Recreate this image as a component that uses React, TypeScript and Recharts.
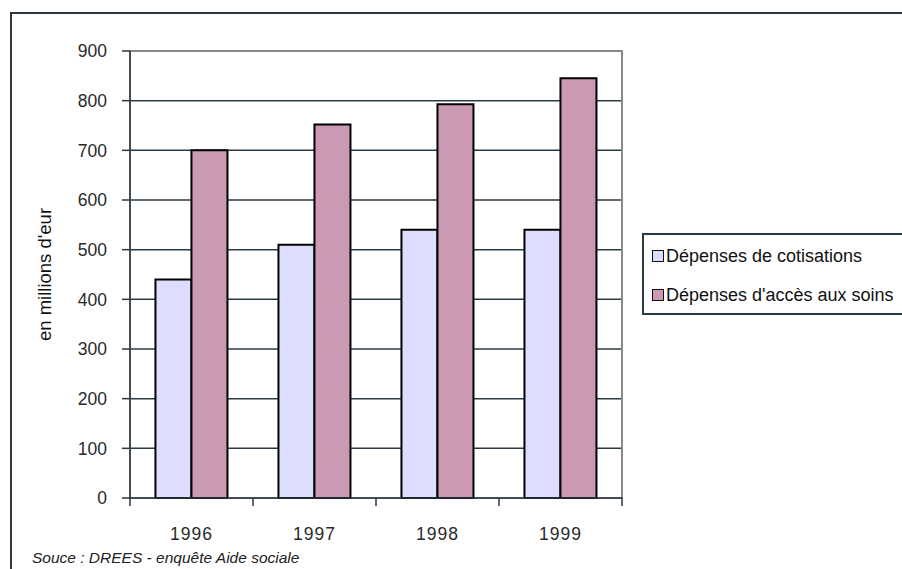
import { BarChart, Bar, XAxis, YAxis, CartesianGrid, ReferenceArea } from 'recharts';

const years = ['1996', '1997', '1998', '1999'];
const cotisations = [440, 510, 540, 540];
const soins = [700, 752, 793, 845];
const yTicks = [0, 100, 200, 300, 400, 500, 600, 700, 800, 900];

const data = years.map((y, i) => ({ year: y, cotisations: cotisations[i], soins: soins[i] }));

const dark = '#2b3a42';
const font = '"Liberation Sans", Arial, sans-serif';

function YearTick(props: any) {
    const { x, y, payload, index } = props;
    const half = payload?.offset ?? 61.5;
    return (
        <g>
            <line x1={x - half} y1={y - 8} x2={x - half} y2={y} stroke={dark} strokeWidth={1.5} />
            {index === years.length - 1 && (
                <line x1={x + half} y1={y - 8} x2={x + half} y2={y} stroke={dark} strokeWidth={1.5} />
            )}
            <text x={x} y={y + 34} textAnchor="middle" fill="#2a2a2a" fontSize={17.5} letterSpacing={1} fontFamily={font}>
                {payload.value}
            </text>
        </g>
    );
}

function LegendBox() {
    const items = [
        { label: 'Dépenses de cotisations', color: '#DDDDFF' },
        { label: "Dépenses d'accès aux soins", color: '#CC99B4' },
    ];
    return (
        <div style={{ position: 'absolute', left: 642, top: 233, width: 300, height: 82, border: `2px solid ${dark}`, boxSizing: 'border-box', background: '#fff', fontFamily: font, fontSize: 18, color: '#111' }}>
            {items.map((it, i) => (
                <div key={i} style={{ display: 'flex', alignItems: 'center', position: 'absolute', left: 8, top: 11 + i * 39, lineHeight: '20px' }}>
                    <span style={{ display: 'inline-block', width: 10, height: 10, background: it.color, border: '1.5px solid #111', marginRight: 2 }} />
                    <span>{it.label}</span>
                </div>
            ))}
        </div>
    );
}

export default function App() {
    return (
        <div style={{ position: 'relative', width: 902, height: 569, overflow: 'hidden', background: '#fff' }}>
            <style>{'body{margin:0}'}</style>
            <div style={{ position: 'absolute', left: 10, top: 12, width: 1000, height: 700, border: `2px solid ${dark}`, boxSizing: 'border-box' }} />
            <div style={{ position: 'absolute', left: 0, top: 0 }}>
                <BarChart
                    width={902}
                    height={569}
                    data={data}
                    margin={{ top: 51, right: 280, bottom: 31, left: 30 }}
                    barCategoryGap="20.7%"
                    barGap={0}
                >
                    <CartesianGrid horizontal vertical={false} stroke={dark} strokeWidth={1.5} />
                    <ReferenceArea y1={0} y2={900} fill="none" stroke="#888" strokeWidth={2} ifOverflow="visible" />
                    <XAxis
                        dataKey="year"
                        height={40}
                        axisLine={{ stroke: dark, strokeWidth: 1.5 }}
                        tickLine={false}
                        tick={<YearTick />}
                        interval={0}
                    />
                    <YAxis
                        width={100}
                        domain={[0, 900]}
                        ticks={yTicks}
                        interval={0}
                        tickSize={8}
                        tickMargin={15}
                        axisLine={{ stroke: dark, strokeWidth: 1.5 }}
                        tickLine={{ stroke: dark, strokeWidth: 1.5 }}
                        tick={{ fill: '#2a2a2a', fontSize: 17.5, fontFamily: font }}
                        label={{ value: "en millions d'eur", angle: -90, position: 'insideLeft', offset: 14, style: { fontSize: 18.5, fill: '#111', fontFamily: font, textAnchor: 'middle' } }}
                    />
                    <Bar dataKey="cotisations" fill="#DDDDFF" stroke="#000" strokeWidth={2} isAnimationActive={false} />
                    <Bar dataKey="soins" fill="#CC99B4" stroke="#000" strokeWidth={2} isAnimationActive={false} />
                </BarChart>
            </div>
            <LegendBox />
            <div style={{ position: 'absolute', left: 32, top: 549, fontFamily: font, fontStyle: 'italic', fontSize: 15.5, color: '#222' }}>
                Souce : DREES - enquête Aide sociale
            </div>
        </div>
    );
}
